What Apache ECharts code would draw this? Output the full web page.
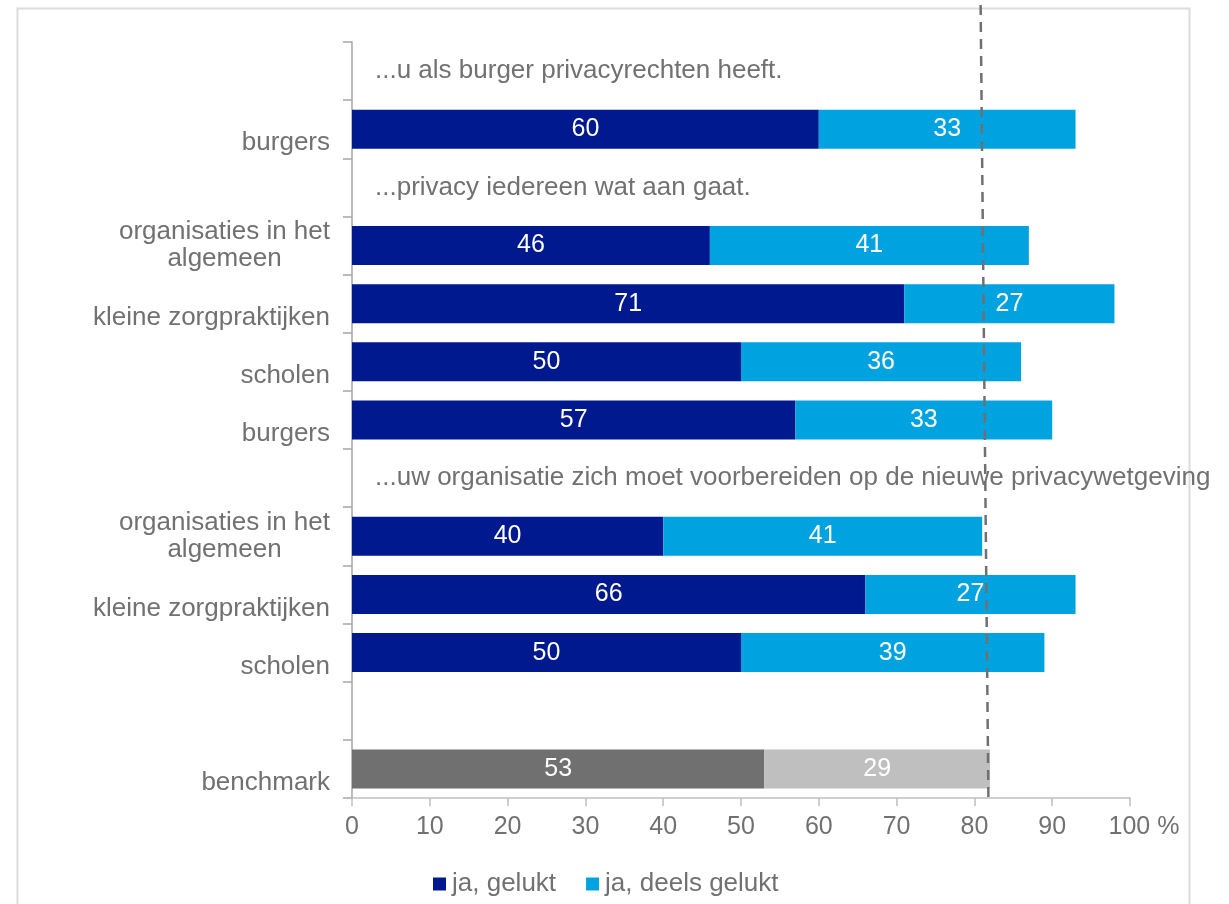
<!DOCTYPE html>
<html>
<head>
<meta charset="utf-8">
<script src="https://cdn.jsdelivr.net/npm/echarts@6/dist/echarts.min.js"></script>
<style>
  html, body { margin: 0; padding: 0; background: #fff; }
  #chart { width: 1229px; height: 904px; }
</style>
</head>
<body>
<div id="chart"></div>
<script>
// Rows from top to bottom; empty rows carry a section heading.
const categories = [
  '', 'burgers',
  '', 'organisaties in het\nalgemeen', 'kleine zorgpraktijken', 'scholen', 'burgers',
  '', 'organisaties in het\nalgemeen', 'kleine zorgpraktijken', 'scholen',
  '', 'benchmark'
];
const gelukt      = [null, 60, null, 46, 71, 50, 57, null, 40, 66, 50, null, 53];
const deelsGelukt = [null, 33, null, 41, 27, 36, 33, null, 41, 27, 39, null, 29];
const sectionRows   = [0, 2, 7];
const sectionTitles = [
  '...u als burger privacyrechten heeft.',
  '...privacy iedereen wat aan gaat.',
  '...uw organisatie zich moet voorbereiden op de nieuwe privacywetgeving'
];
const benchmarkRow = 12;
// Dashed reference line (x values at top and bottom end)
const referenceLine = [[80.8, 1], [81.8, 0]];
const xTicks = [0, 10, 20, 30, 40, 50, 60, 70, 80, 90, 100];
const seriesNames = ['ja, gelukt', 'ja, deels gelukt'];

const DARK = '#00198F', LIGHT = '#00A3E0', GRAY_D = '#707070', GRAY_L = '#BFBFBF';
const TXT = '#717171';
const FONT = '"Liberation Sans", Arial, sans-serif';
const FS = 26;

function withBenchmark(arr, color) {
  return arr.map((v, i) => i === benchmarkRow ? { value: v, itemStyle: { color } } : v);
}

const valueLabel = {
  show: true, position: 'inside', color: '#fff',
  fontSize: 25, fontFamily: FONT
};

const chart = echarts.init(document.getElementById('chart'), null, { renderer: 'canvas' });
chart.setOption({
  animation: false,
  textStyle: { fontFamily: FONT },
  graphic: [{
    type: 'rect', silent: true, z: -10,
    shape: { x: 17.5, y: 8.5, width: 1172, height: 920 },
    style: { fill: 'none', stroke: '#DCDCDC', lineWidth: 2 }
  }],
  legend: {
    data: seriesNames,
    left: 433, top: 871, padding: 0,
    itemWidth: 13, itemHeight: 13, itemGap: 30,
    icon: 'rect',
    textStyle: { color: TXT, fontSize: FS, fontFamily: FONT, padding: [0, 0, 0, 1] }
  },
  grid: [
    { left: 352, right: 99, top: 42, bottom: 106 },
    { left: 352, right: 99, top: 5, bottom: 106 }
  ],
  xAxis: [{
    type: 'value', min: 0, max: 100, interval: 10, gridIndex: 0,
    splitLine: { show: false },
    axisLine: { show: true, lineStyle: { color: GRAY_L, width: 1.5 } },
    axisTick: { show: true, length: 8, lineStyle: { color: GRAY_L, width: 1.5 } },
    axisLabel: {
      color: TXT, fontSize: 25, fontFamily: FONT, margin: 17,
      formatter: v => xTicks.indexOf(v) >= 0 ? (v === 100 ? '{pad|}100 %' : String(v)) : '',
      rich: { pad: { width: 28 } }
    }
  }, {
    type: 'value', min: 0, max: 100, gridIndex: 1, show: false
  }],
  yAxis: [{
    type: 'category', data: categories, inverse: true, gridIndex: 0,
    axisLine: { show: true, lineStyle: { color: '#A6A6A6', width: 1.5 } },
    axisTick: { show: true, length: 9, lineStyle: { color: '#A6A6A6', width: 1.5 } },
    axisLabel: {
      color: TXT, fontSize: FS, fontFamily: FONT, margin: 22, lineHeight: 27,
      // single-line labels sit a little below the bar centre, two-line labels are centred
      formatter: v => {
        if (!v) return '';
        const lines = v.split('\n');
        if (lines.length === 1) return '{s|' + v + '}';
        return lines.map(s => '{c|' + s + '}').join('\n');
      },
      rich: {
        c: { align: 'center', color: TXT, fontSize: FS, fontFamily: FONT, lineHeight: 27 },
        s: { color: TXT, fontSize: FS, fontFamily: FONT, lineHeight: 27, padding: [28, 0, 0, 0] }
      }
    }
  }, {
    type: 'value', min: 0, max: 1, gridIndex: 1, show: false
  }],
  series: [{
    name: seriesNames[0], type: 'bar', stack: 'total', barWidth: 39,
    itemStyle: { color: DARK },
    label: valueLabel,
    data: withBenchmark(gelukt, GRAY_D)
  }, {
    name: seriesNames[1], type: 'bar', stack: 'total', barWidth: 39,
    itemStyle: { color: LIGHT },
    label: valueLabel,
    data: withBenchmark(deelsGelukt, GRAY_L)
  }, {
    name: 'sections', type: 'scatter', symbolSize: 0, silent: true,
    itemStyle: { opacity: 1 },
    data: sectionRows.map((r, i) => ({ value: [0, r], title: sectionTitles[i] })),
    label: {
      show: true, position: 'right', distance: 23, opacity: 1,
      color: TXT, fontSize: FS, fontFamily: FONT,
      formatter: p => p.data.title
    }
  }, {
    name: 'reference', type: 'line', xAxisIndex: 1, yAxisIndex: 1,
    symbol: 'none', silent: true, z: 10,
    lineStyle: { color: '#707070', width: 2.5, type: [10, 7] },
    data: referenceLine
  }]
});
</script>
</body>
</html>
